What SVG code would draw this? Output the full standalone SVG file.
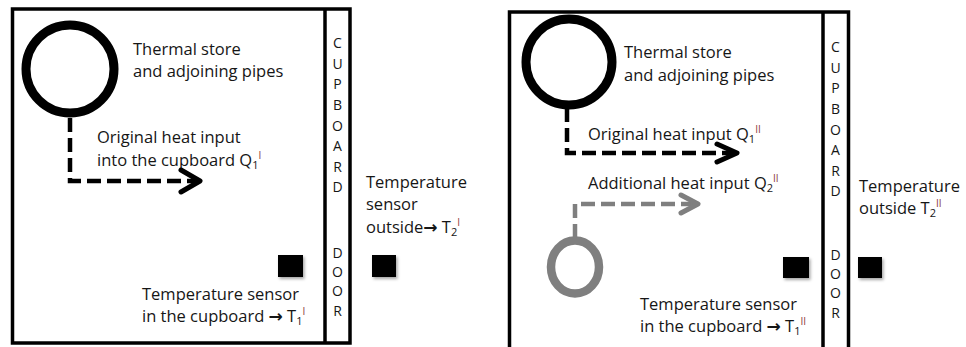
<svg xmlns="http://www.w3.org/2000/svg" width="966" height="347" viewBox="0 0 966 347">
  <style>
    .frame { fill: none; stroke: #000; stroke-width: 3.5; }
    .store { fill: none; stroke: #000; stroke-width: 9; }
    .heat { fill: none; stroke: #000; stroke-width: 4.5; stroke-dasharray: 14 6; }
    .heat2 { fill: none; stroke: #7f7f7f; stroke-width: 4.5; stroke-dasharray: 14 6; }
    .head { fill: none; stroke: #000; stroke-width: 5; stroke-linecap: round; stroke-linejoin: round; }
    .head2 { fill: none; stroke: #7f7f7f; stroke-width: 5; stroke-linecap: round; stroke-linejoin: round; }
    .sensor { fill: #000; filter: url(#shade); }
    text { font-family: "Open Sans", "Liberation Sans", sans-serif; fill: #161616; }
    .lbl { font-size: 16.5px; }
    .door { font-size: 14px; text-anchor: middle; }
    .sub { font-size: 11px; }
    .sup { font-size: 10px; fill: #8a3a3a; }
    .arr { font-family: "DejaVu Sans", sans-serif; font-weight: bold; font-size: 17px; }
  </style>
  <defs>
    <filter id="shade" x="-30%" y="-30%" width="170%" height="170%">
      <feDropShadow dx="1.5" dy="2" stdDeviation="1.5" flood-color="#000" flood-opacity="0.35"/>
    </filter>
  </defs>

  <!-- left cupboard: original state -->
  <g id="cupboard-1">
    <rect class="frame" x="12.5" y="9" width="337.5" height="334"/>
    <line class="frame" x1="325" y1="9" x2="325" y2="343"/>
    <g class="door">
      <text x="337.5" y="48">C</text>
      <text x="337.5" y="69">U</text>
      <text x="337.5" y="89">P</text>
      <text x="337.5" y="110">B</text>
      <text x="337.5" y="131">O</text>
      <text x="337.5" y="151">A</text>
      <text x="337.5" y="172">R</text>
      <text x="337.5" y="192">D</text>
      <text x="337.5" y="258">D</text>
      <text x="337.5" y="277">O</text>
      <text x="337.5" y="296">O</text>
      <text x="337.5" y="316">R</text>
    </g>
  </g>
  <g id="store-1">
    <circle class="store" cx="70" cy="69" r="44"/>
    <text class="lbl" x="133" y="55">Thermal store</text>
    <text class="lbl" x="133" y="77">and adjoining pipes</text>
  </g>
  <g id="heat-label-1">
    <text class="lbl" x="97" y="143">Original heat input</text>
    <text class="lbl" x="97" y="166">into the cupboard Q<tspan class="sub" dy="3">1</tspan><tspan class="sup" dy="-10">I</tspan></text>
  </g>
  <g id="sensor-in-1">
    <rect class="sensor" x="278" y="255" width="25" height="22"/>
    <text class="lbl" x="142" y="300">Temperature sensor</text>
    <text class="lbl" x="142" y="322">in the cupboard <tspan class="arr">→</tspan> T<tspan class="sub" dy="3">1</tspan><tspan class="sup" dy="-10">I</tspan></text>
  </g>
  <g id="sensor-out-1">
    <rect class="sensor" x="372" y="255" width="24" height="22"/>
    <text class="lbl" x="366" y="188">Temperature</text>
    <text class="lbl" x="366" y="210">sensor</text>
    <text class="lbl" x="366" y="233">outside<tspan class="arr">→</tspan> T<tspan class="sub" dy="3">2</tspan><tspan class="sup" dy="-10">I</tspan></text>
  </g>

  <!-- right cupboard: with additional heat source -->
  <g id="cupboard-2">
    <path class="frame" d="M509.5,350 V12 H848.5 V350"/>
    <line class="frame" x1="823" y1="12" x2="823" y2="350"/>
    <g class="door">
      <text x="835.5" y="52">C</text>
      <text x="835.5" y="73">U</text>
      <text x="835.5" y="93">P</text>
      <text x="835.5" y="114">B</text>
      <text x="835.5" y="135">O</text>
      <text x="835.5" y="155">A</text>
      <text x="835.5" y="176">R</text>
      <text x="835.5" y="196">D</text>
      <text x="835.5" y="260">D</text>
      <text x="835.5" y="279">O</text>
      <text x="835.5" y="298">O</text>
      <text x="835.5" y="318">R</text>
    </g>
  </g>
  <g id="store-2">
    <circle class="store" cx="569" cy="62" r="43"/>
    <text class="lbl" x="624" y="58">Thermal store</text>
    <text class="lbl" x="624" y="81">and adjoining pipes</text>
  </g>
  <g id="heat-label-2">
    <text class="lbl" x="588" y="140">Original heat input Q<tspan class="sub" dy="3">1</tspan><tspan class="sup" dy="-10">II</tspan></text>
  </g>
  <g id="extra-source">
    <ellipse cx="575" cy="267" rx="24" ry="26.5" fill="none" stroke="#7f7f7f" stroke-width="8.5"/>
    <text class="lbl" x="588" y="189">Additional heat input Q<tspan class="sub" dy="3">2</tspan><tspan class="sup" dy="-10">II</tspan></text>
  </g>
  <g id="sensor-in-2">
    <rect class="sensor" x="783" y="257" width="26" height="21"/>
    <text class="lbl" x="640" y="310">Temperature sensor</text>
    <text class="lbl" x="640" y="332">in the cupboard <tspan class="arr">→</tspan> T<tspan class="sub" dy="3">1</tspan><tspan class="sup" dy="-10">II</tspan></text>
  </g>
  <g id="sensor-out-2">
    <rect class="sensor" x="858" y="257" width="24" height="21"/>
    <text class="lbl" x="859" y="192">Temperature</text>
    <text class="lbl" x="859" y="214">outside T<tspan class="sub" dy="3">2</tspan><tspan class="sup" dy="-10">II</tspan></text>
  </g>

  <!-- heat flow connectors -->
  <g id="connectors">
    <path class="heat" d="M70,118 V181 H196"/>
    <path class="head" d="M181,170 L200,181 L181,192"/>
    <path class="heat" d="M567,108 V153 H733"/>
    <path class="head" d="M717,144 L737,153 L717,162"/>
    <path class="heat2" d="M575,238 V204 H694"/>
    <path class="head2" d="M681,195 L698,204 L681,213"/>
  </g>
</svg>
